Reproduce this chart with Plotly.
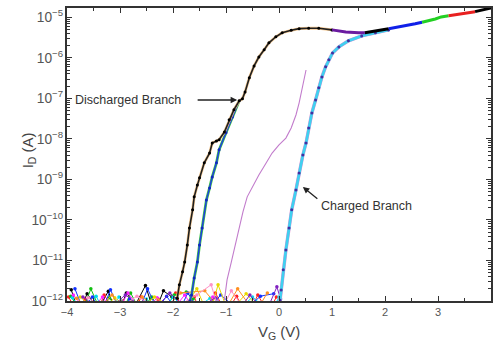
import plotly.graph_objects as go

# ---------------- data (log10 of I_D in A) ----------------
# discharged branch (black, reverse sweep)
dis_v = [-1.92, -1.88, -1.82, -1.78, -1.73, -1.69, -1.63, -1.60, -1.54, -1.50, -1.41, -1.31,
         -1.26, -1.18, -1.13, -1.03, -0.94, -0.85, -0.75, -0.69, -0.64, -0.56, -0.47, -0.38,
         -0.28, -0.19, -0.06, 0.06, 0.23, 0.38, 0.56, 0.75, 1.0]
dis_i = [-11.93, -11.60, -11.28, -11.04, -10.62, -10.20, -9.75, -9.43, -9.14, -8.96, -8.59, -8.35,
         -8.10, -8.05, -8.02, -7.83, -7.53, -7.28, -7.06, -7.01, -6.84, -6.49, -6.20, -5.98,
         -5.80, -5.63, -5.48, -5.38, -5.32, -5.28, -5.27, -5.27, -5.31]

# second discharged branch (blue / green)
b2_v = [-1.68, -1.65, -1.60, -1.54, -1.50, -1.45, -1.37, -1.31, -1.26, -1.18, -1.13, -1.00, -0.88, -0.75]
b2_i = [-12.0, -11.85, -11.43, -11.04, -10.62, -10.20, -9.51, -9.21, -8.94, -8.59, -8.27, -7.85, -7.46, -7.06]

# partial sweep (thin magenta line)
mg_v = [-1.03, -0.98, -0.90, -0.83, -0.75, -0.68, -0.60, -0.49, -0.38, -0.24, -0.13, 0.0, 0.13,
        0.23, 0.32, 0.38, 0.43, 0.47, 0.51]
mg_i = [-11.98, -11.48, -11.04, -10.62, -10.20, -9.80, -9.43, -9.14, -8.89, -8.59, -8.35, -8.15, -7.98,
        -7.73, -7.41, -7.11, -6.79, -6.54, -6.30]

# charged branch (cyan / blue, forward sweep)
ch_v = [0.02, 0.04, 0.08, 0.13, 0.19, 0.24, 0.32, 0.38, 0.45, 0.51, 0.56, 0.62, 0.69, 0.75, 0.81,
        0.88, 0.94, 1.01, 1.13, 1.31, 1.56, 1.82, 2.07]
ch_i = [-11.98, -11.73, -11.23, -10.74, -10.20, -9.75, -9.26, -8.84, -8.40, -8.10, -7.73, -7.36, -7.04,
        -6.74, -6.47, -6.22, -6.05, -5.88, -5.73, -5.58, -5.46, -5.38, -5.31]

# common upper part (different sweep ranges, coloured segments)
up_v = [1.0, 1.26, 1.5, 1.62, 1.75, 1.9, 2.07, 2.2, 2.31, 2.45, 2.57, 2.7, 2.82, 2.95, 3.06, 3.2,
        3.32, 3.45, 3.57, 3.7, 3.89, 4.0]
up_i = [-5.31, -5.36, -5.38, -5.38, -5.36, -5.32, -5.28, -5.25, -5.23, -5.19, -5.16, -5.12, -5.09,
        -5.04, -4.99, -4.96, -4.94, -4.92, -4.89, -4.86, -4.80, -4.77]
seg_ranges = [(0, 4), (3, 7), (6, 12), (11, 16), (15, 20), (19, 22)]
seg_colors = ['#6a1ba0', '#000000', '#1020e8', '#22d022', '#e82020', '#000000']

# noise floor points
noise = {
    '#000000': ([-3.92, -3.78, -3.62, -3.41, -3.22, -3.05, -2.88, -2.71, -2.52, -2.35, -2.18, -2.02, -1.92],
                [-11.72, -12.3, -11.82, -12.2, -11.76, -12.4, -11.8, -12.1, -11.62, -12.3, -11.75, -11.9, -11.93]),
    '#ff2020': ([-3.97, -3.8, -3.66, -3.5, -3.3, -3.12, -2.95, -2.78, -2.6, -2.45, -2.28, -2.1, -1.95,
                 -1.8, -1.6, -1.4, -1.2, -1.0, -0.8, -0.6, -0.4, -0.2, -0.05],
                [-11.9, -12.3, -11.95, -12.5, -11.85, -12.2, -12.0, -12.4, -11.9, -12.3, -11.95, -12.4,
                 -11.8, -12.3, -11.9, -12.5, -11.8, -12.3, -11.88, -12.4, -11.85, -12.3, -11.9]),
    '#10c010': ([-3.93, -3.72, -3.55, -3.38, -3.2, -2.98, -2.8, -2.62, -2.4, -2.2, -1.98, -1.75, -1.62],
                [-11.88, -12.3, -11.7, -12.2, -11.92, -12.35, -11.8, -12.25, -11.9, -12.3, -11.85, -11.78, -11.95]),
    '#1030ff': ([-3.85, -3.7, -3.52, -3.35, -3.18, -3.0, -2.82, -2.66, -2.48, -2.3, -2.12, -1.9, -1.72,
                 -1.45, -1.1, -0.7, -0.35, -0.1],
                [-11.7, -12.2, -11.9, -12.3, -11.72, -12.25, -11.95, -12.3, -11.7, -12.2, -11.88, -12.3, -11.8,
                 -12.4, -11.85, -12.3, -11.88, -11.82]),
    '#00d8f0': ([-3.9, -3.68, -3.45, -3.25, -3.02, -2.75, -2.5, -2.25, -2.0, -1.7, -1.3, -0.9, -0.5, -0.15, 0.0],
                [-11.92, -12.3, -11.88, -12.4, -11.9, -12.3, -11.95, -12.4, -11.9, -12.3, -11.93, -12.4, -11.9, -12.3, -11.9]),
    '#ff20ff': ([-3.88, -3.6, -3.33, -3.08, -2.85, -2.56, -2.3, -2.05, -1.78, -1.5, -1.25],
                [-11.85, -12.3, -11.9, -12.35, -11.8, -12.3, -11.92, -12.3, -11.85, -12.4, -11.9]),
    '#e8d800': ([-3.75, -3.4, -3.1, -2.7, -2.35, -1.85, -1.55, -1.32, -1.15, -0.95, -0.62, -0.3],
                [-11.9, -12.3, -11.92, -12.3, -11.9, -12.3, -11.7, -12.4, -11.6, -12.3, -11.82, -12.3]),
    '#ff9020': ([-3.82, -3.48, -3.15, -2.92, -2.58, -2.2, -1.86, -1.4, -1.05, -0.78, -0.45, -0.22],
                [-11.93, -12.3, -11.85, -12.3, -11.9, -12.3, -11.8, -11.75, -12.3, -11.7, -12.3, -11.8]),
    '#8020c0': ([-3.7, -3.28, -2.9, -2.42, -2.06, -1.66, -1.2, -0.85, -0.55, -0.25, -0.04, 0.03],
                [-11.9, -12.3, -11.85, -12.3, -11.8, -12.3, -11.92, -12.4, -11.85, -12.3, -11.65, -11.95]),
    '#ff90c8': ([-3.6, -3.15, -2.68, -2.15, -1.55, -1.28, -1.12, -0.9, -0.6],
                [-11.92, -12.3, -11.88, -12.3, -11.85, -11.6, -12.3, -11.75, -12.3]),
}

# texts
label_dis = "Discharged Branch"
label_ch = "Charged Branch"
x_title = "V<sub>G</sub> (V)"
y_title = "I<sub>D</sub> (A)"


def A(vals):
    return [10 ** v for v in vals]


fig = go.Figure()

for col, (vv, ii) in noise.items():
    fig.add_trace(go.Scatter(x=vv, y=A(ii), mode='lines+markers',
                             line=dict(color=col, width=1), marker=dict(color=col, size=3.5)))

# magenta partial sweep
fig.add_trace(go.Scatter(x=mg_v, y=A(mg_i), mode='lines', line=dict(color='#c27ccc', width=1.1)))

# second discharged branch
fig.add_trace(go.Scatter(x=b2_v, y=A(b2_i), mode='lines', line=dict(color='#40c840', width=2.8)))
fig.add_trace(go.Scatter(x=b2_v, y=A(b2_i), mode='lines+markers', line=dict(color='#2040e0', width=1.5),
                         marker=dict(color='#1028c0', size=3)))

# discharged branch
fig.add_trace(go.Scatter(x=dis_v, y=A(dis_i), mode='lines', line=dict(color='#f5c890', width=2.8)))
fig.add_trace(go.Scatter(x=dis_v, y=A(dis_i), mode='lines+markers', line=dict(color='#202020', width=1.6),
                         marker=dict(color='#000000', size=3)))

# charged branch
fig.add_trace(go.Scatter(x=ch_v, y=A(ch_i), mode='lines', line=dict(color='#e890d0', width=3.4)))
fig.add_trace(go.Scatter(x=ch_v, y=A(ch_i), mode='lines', line=dict(color='#40d0f0', width=2.8)))
fig.add_trace(go.Scatter(x=ch_v, y=A(ch_i), mode='markers', marker=dict(color='#4030a0', size=3)))

# upper coloured segments
for (a, b), col in zip(seg_ranges, seg_colors):
    fig.add_trace(go.Scatter(x=up_v[a:b], y=A(up_i[a:b]), mode='lines',
                             line=dict(color=col, width=3)))

font_main = 'Liberation Sans, Arial, sans-serif'

fig.add_annotation(x=-2.855, y=-7.04, xref='x', yref='y', text=label_dis, showarrow=False,
                   font=dict(family=font_main, size=12.5, color='#333333'))
fig.add_annotation(x=-0.79, y=-7.04, xref='x', yref='y', text='', showarrow=True,
                   ax=-41, ay=0, arrowhead=2, arrowsize=1, arrowwidth=1.3, arrowcolor='#222222')
fig.add_annotation(x=1.65, y=-9.654, xref='x', yref='y', text=label_ch, showarrow=False,
                   font=dict(family=font_main, size=12.5, color='#333333'))
fig.add_annotation(x=0.45, y=-9.185, xref='x', yref='y', text='', showarrow=True,
                   ax=16, ay=13, arrowhead=2, arrowsize=1, arrowwidth=1.3, arrowcolor='#222222')
# axis titles
fig.add_annotation(x=0.5, y=-0.106, xref='paper', yref='paper', text=x_title, showarrow=False,
                   xanchor='center', yanchor='middle',
                   font=dict(family=font_main, size=15, color='#444444'))
fig.add_annotation(x=-0.0915, y=0.515, xref='paper', yref='paper', text=y_title, showarrow=False,
                   xanchor='center', yanchor='middle', textangle=-90,
                   font=dict(family=font_main, size=15, color='#444444'))

axis_common = dict(showline=True, linecolor='#333333', linewidth=1.5, mirror='ticks',
                   ticks='inside', ticklen=5, tickwidth=1.3, tickcolor='#333333',
                   showgrid=False, zeroline=False,
                   tickfont=dict(family=font_main, size=11, color='#555555'))

fig.update_layout(
    width=494, height=346,
    margin=dict(l=67, r=1, t=8, b=45),
    paper_bgcolor='white', plot_bgcolor='white',
    showlegend=False,
    xaxis=dict(range=[-4, 4], dtick=1, tick0=0,
               minor=dict(dtick=0.5, tick0=0, ticks='inside', ticklen=3, tickwidth=1.1, tickcolor='#333333',
                          showgrid=False),
               **axis_common),
    yaxis=dict(type='log', range=[-12, -4.77], dtick=1, exponentformat='power', showexponent='all',
               minor=dict(ticks='inside', ticklen=3, tickwidth=1, tickcolor='#333333', showgrid=False),
               **axis_common),
)

fig.write_html("out.html")
